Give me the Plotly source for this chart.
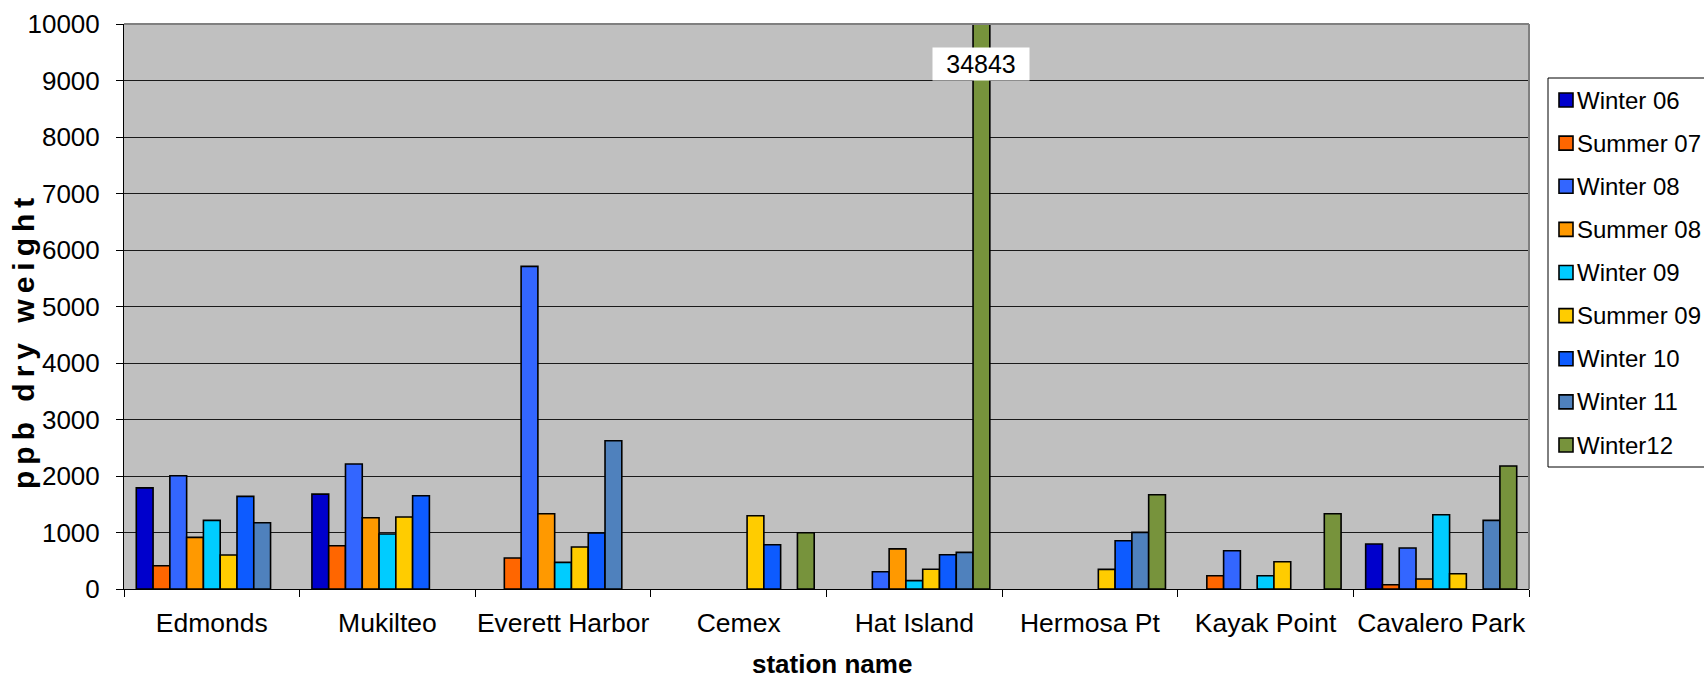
import plotly.graph_objects as go

stations = ["Edmonds", "Mukilteo", "Everett Harbor", "Cemex", "Hat Island",
            "Hermosa Pt", "Kayak Point", "Cavalero Park"]

winter06 = [1790, 1680, None, None, None, None, None, 796]
summer07 = [412, 766, 549, None, None, None, 235, 76]
winter08 = [2005, 2212, 5710, None, 304, None, 678, 725]
summer08 = [913, 1262, 1333, None, 710, None, None, 177]
winter09 = [1214, 973, 471, None, 149, None, 235, 1314]
summer09 = [602, 1274, 743, 1297, 350, 347, 483, 271]
winter10 = [1639, 1651, 991, 784, 607, 855, None, None]
winter11 = [1173, None, 2625, None, 648, 1002, None, 1214]
winter12 = [None, None, None, 995, 34843, 1669, 1333, 2176]

series_names = ["Winter 06", "Summer 07", "Winter 08", "Summer 08", "Winter 09",
                "Summer 09", "Winter 10", "Winter 11", "Winter12"]
series_values = [winter06, summer07, winter08, summer08, winter09,
                 summer09, winter10, winter11, winter12]
series_colors = ["#0000CC", "#FF6600", "#3366FF", "#FF9900", "#00CCFF",
                 "#FFCC00", "#0D5BFF", "#4F81BD", "#77933C"]

y_ticks = list(range(0, 10001, 1000))

FONT = "Arial, Liberation Sans, sans-serif"
W, H = 1704, 680
ML, MR, MT, MB = 124, 175, 24, 91
plot_w = W - ML - MR
plot_h = H - MT - MB
bargap = 0.14


def px_x(px):
    return (px - ML) / plot_w


def px_y(py):
    return (MT + plot_h - py) / plot_h


fig = go.Figure()
for i, (name, vals, col) in enumerate(zip(series_names, series_values, series_colors)):
    fig.add_trace(go.Bar(
        x=stations, y=vals, name=name,
        marker=dict(color=col, line=dict(color="black", width=1.6)),
        hoverinfo="x+y+name",
    ))

# data label for the off-scale bar (Winter12 at Hat Island)
cat_w = plot_w / len(stations)
bar_w = cat_w * (1 - bargap) / len(series_names)
idx12 = len(series_names) - 1
offset_px = (idx12 - (len(series_names) - 1) / 2) * bar_w
hat_idx = stations.index("Hat Island")
fig.add_annotation(
    x=stations[hat_idx], y=9290, xref="x", yref="y",
    text=str(winter12[hat_idx]), showarrow=False, xshift=offset_px,
    xanchor="center", yanchor="middle",
    bgcolor="white", font=dict(family=FONT, size=25, color="black"),
    width=94, height=30, borderpad=1,
)

# axis titles
fig.add_annotation(
    x=px_x(23), y=px_y(341), xref="paper", yref="paper",
    xanchor="center", yanchor="middle",
    text='<span style="letter-spacing:6px"><b>ppb dry weight</b></span>',
    textangle=-90, showarrow=False,
    font=dict(family=FONT, size=30, color="black"),
)
fig.add_annotation(
    x=px_x(832), y=px_y(664), xref="paper", yref="paper",
    xanchor="center", yanchor="middle", height=24,
    text="<b>station name</b>", showarrow=False,
    font=dict(family=FONT, size=26, color="black"),
)

# gray plot-area border on top and right
fig.add_shape(type="line", xref="paper", yref="paper", x0=1, x1=1, y0=0, y1=1,
              line=dict(color="#808080", width=2))
fig.add_shape(type="line", xref="paper", yref="paper", x0=0, x1=1, y0=1, y1=1,
              line=dict(color="#808080", width=2))

# legend (box, swatches, labels)
fig.add_shape(type="rect", xref="paper", yref="paper",
              x0=px_x(1548), x1=px_x(1740), y0=px_y(467), y1=px_y(78),
              line=dict(color="black", width=1), fillcolor="white")
for i, (name, col) in enumerate(zip(series_names, series_colors)):
    cy = 100 + 43.125 * i
    fig.add_shape(type="rect", xref="paper", yref="paper",
                  x0=px_x(1559), x1=px_x(1573), y0=px_y(cy + 7), y1=px_y(cy - 7),
                  line=dict(color="black", width=1.6), fillcolor=col)
    fig.add_annotation(x=px_x(1575), y=px_y(cy), xref="paper", yref="paper",
                       xanchor="left", yanchor="middle", text=name, showarrow=False,
                       font=dict(family=FONT, size=24, color="black"))

fig.update_layout(
    width=W, height=H,
    margin=dict(l=ML, r=MR, t=MT, b=MB, autoexpand=False),
    paper_bgcolor="white", plot_bgcolor="#C0C0C0",
    barmode="group", bargap=bargap, bargroupgap=0,
    font=dict(family=FONT, size=25, color="black"),
    showlegend=False,
    xaxis=dict(
        showline=True, linecolor="black", linewidth=1,
        ticks="outside", ticklen=7, tickcolor="black", tickwidth=1,
        tickson="boundaries", showgrid=False, tickangle=0,
        tickfont=dict(family=FONT, size=26.5, color="black"),
        ticklabelstandoff=10,
    ),
    yaxis=dict(
        range=[0, 10000], tickvals=y_ticks, ticktext=[str(v) for v in y_ticks],
        showline=True, linecolor="black", linewidth=1,
        ticks="outside", ticklen=7, tickcolor="black", tickwidth=1,
        showgrid=True, gridcolor="#1a1a1a", gridwidth=1,
        zeroline=False,
        tickfont=dict(family=FONT, size=26, color="black"),
        ticklabelstandoff=11,
    ),
)

fig.write_html(
    "out.html",
    config={"displayModeBar": False},
    post_script="document.body.style.margin='0';document.body.style.overflow='hidden';",
)
